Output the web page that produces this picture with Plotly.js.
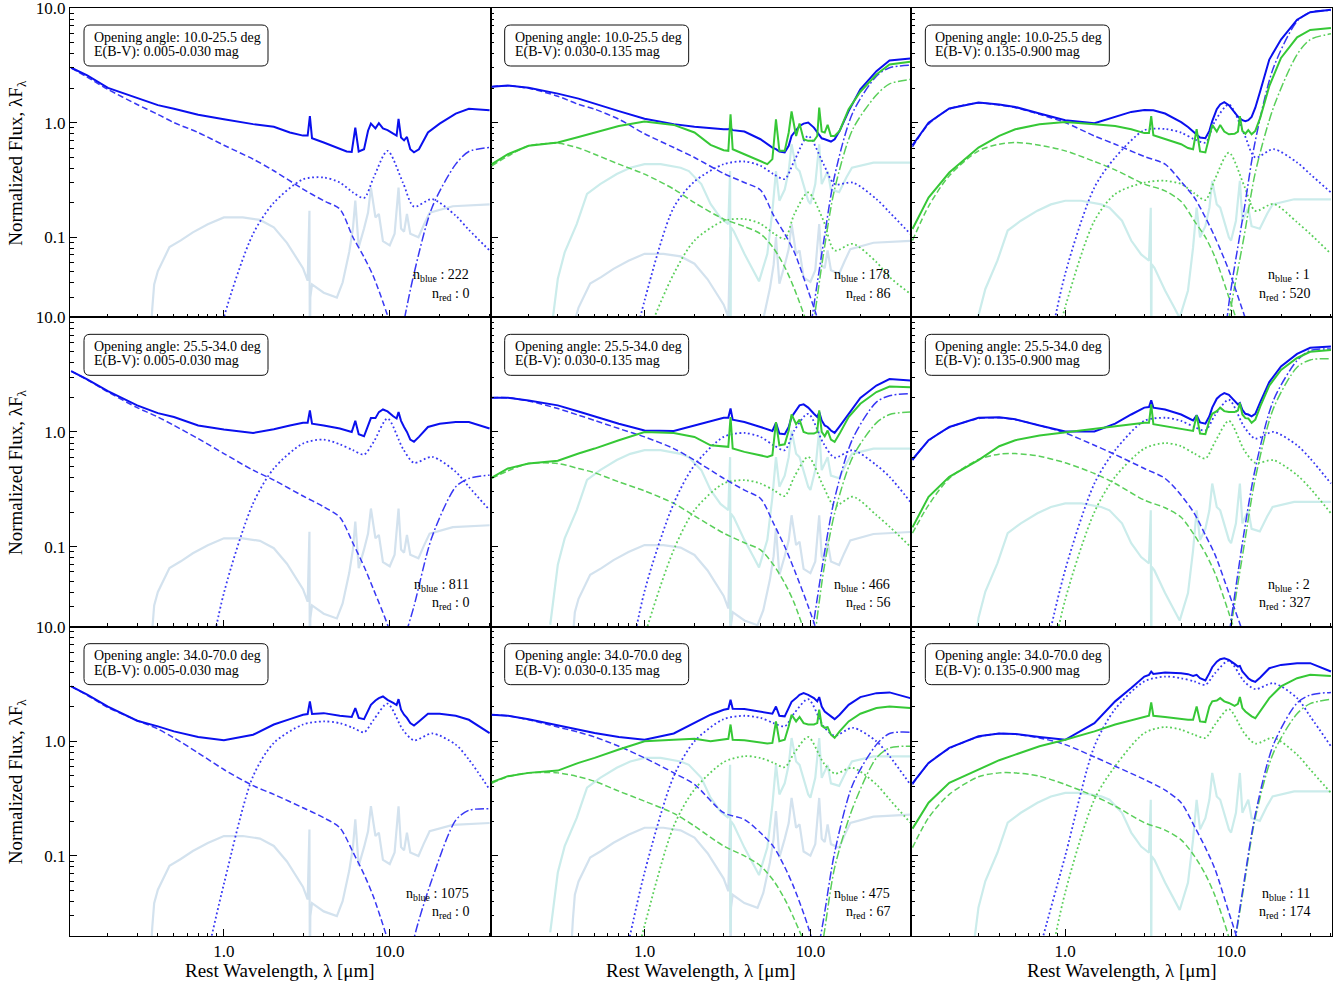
<!DOCTYPE html>
<html>
<head>
<meta charset="utf-8">
<script src="https://cdn.plot.ly/plotly-3.0.1.min.js"></script>
<style>html,body{margin:0;padding:0;background:#fff}</style>
</head>
<body>
<div id="chart" style="width:1342px;height:987px"></div>
<script>
// ---- wavelength grids (rest frame, micron) ----
const wlComp = [0.12,0.15,0.2,0.3,0.4,0.5,0.7,1,1.5,2,3,4,5,6,7,8,9.7,12,14,18,25,30,40];
const wlTot = [0.12,0.15,0.2,0.3,0.4,0.5,0.7,1.0,1.5,2.0,2.5,3.0,3.2,3.3,3.4,4.0,5.0,5.5,5.9,6.2,6.5,7.0,7.4,7.7,8.2,8.6,9.1,9.7,10.5,11.0,11.3,11.7,12.2,12.7,13.3,14.0,15.0,17.0,20.0,25.0,30.0,40.0];

// ---- host-galaxy templates (relative to 1 micron) ----
const hostA_wl = [0.30,0.36,0.37,0.38,0.40,0.43,0.47,0.55,0.65,0.8,1.0,1.3,1.65,2.0,2.4,3.0,3.2,3.28,3.3,3.32,3.4,4.0,4.8,5.2,5.7,6.0,6.2,6.5,7.0,7.4,7.7,8.2,8.6,9.1,10.0,10.7,11.3,11.7,12.2,12.7,13.3,14.9,16.0,17.4,24,40];
const hostA_rel = [0.02,0.08,0.16,0.26,0.34,0.42,0.55,0.63,0.74,0.87,1.0,1.0,0.95,0.82,0.6,0.36,0.28,1.14,0.05,0.2,0.26,0.22,0.2,0.27,0.5,0.8,1.4,0.55,0.8,1.1,1.82,1.0,1.07,0.62,0.57,0.72,1.82,0.8,0.75,1.07,0.72,0.67,0.85,1.1,1.25,1.3];
const hostB_wl = [0.27,0.29,0.30,0.33,0.36,0.39,0.45,0.54,0.68,0.82,1.0,1.25,1.65,1.85,2.2,2.5,2.87,3.2,3.28,3.3,3.32,3.45,4.0,4.5,4.9,5.5,5.9,6.2,6.5,7.0,7.4,7.7,8.2,8.6,9.7,10.0,10.7,11.3,11.7,12.7,13.3,14.9,16.5,17.8,24,40];
const hostB_rel = [0.03,0.07,0.10,0.17,0.23,0.30,0.55,0.67,0.82,0.93,1.0,1.0,0.93,0.87,0.67,0.45,0.34,0.30,0.87,0.03,0.28,0.26,0.165,0.12,0.095,0.165,0.39,0.87,0.48,0.6,0.87,1.49,0.93,0.87,0.48,0.45,0.67,1.49,0.67,0.87,0.6,0.57,0.77,0.93,1.03,1.03];
// host normalisation per panel (row-major), blue-sample and red-sample hosts
const hostAmpBlue = [0.149,0.0716,null,0.118,0.103,null,0.149,0.176,null];
const hostAmpRed  = [null,0.434,0.208,null,0.693,0.238,null,0.716,0.355];

// ---- bin labels and counts ----
const angleBins = ['10.0-25.5','25.5-34.0','34.0-70.0'];
const ebvBins = ['0.005-0.030','0.030-0.135','0.135-0.900'];
const nBlue = [222,178,1,811,466,2,1075,475,11];
const nRed  = [0,86,520,0,56,327,0,67,174];

// ---- row 1 ----
const blueTot11 = [3.01,2.58,2.01,1.63,1.42,1.32,1.17,1.07,0.97,0.92,0.82,0.77,0.77,1.14,0.73,0.67,0.59,0.56,0.555,0.905,0.56,0.585,0.85,0.98,0.89,0.99,0.89,0.86,0.80,0.77,1.08,0.74,0.70,0.75,0.585,0.55,0.585,0.82,0.98,1.2,1.32,1.28];
const blueDisk11 = [3.01,2.49,1.95,1.44,1.18,1.0,0.82,0.635,0.48,0.38,0.263,0.208,0.176,0.1,0.067,0.045,0.0208,0.008,0.004,0.0015,0.001,0.001,0.001];
const blueTorus11 = [null,null,null,null,null,null,0.002,0.02,0.107,0.2,0.32,0.332,0.30,0.246,0.22,0.332,0.567,0.30,0.185,0.215,0.154,0.116,0.0766];
const blueCold11 = [null,null,null,null,null,null,null,null,null,null,null,null,null,null,null,null,0.003,0.0165,0.048,0.182,0.434,0.56,0.606];

const blueTot12 = [2.06,2.11,2.01,1.79,1.62,1.46,1.26,1.08,0.97,0.92,0.89,0.875,0.875,0.89,0.86,0.835,0.716,0.648,0.606,0.586,0.56,0.55,0.627,0.765,0.85,0.935,0.98,1.0,0.905,0.82,0.79,0.73,0.716,0.705,0.684,0.716,0.847,1.26,1.95,2.81,3.48,3.62];
const greenTot12 = [0.434,0.53,0.627,0.67,0.75,0.82,0.935,1.02,0.955,0.82,0.64,0.575,0.567,1.18,0.586,0.53,0.464,0.434,0.48,1.07,0.567,0.567,0.82,1.25,0.765,0.98,0.716,0.693,0.693,0.765,1.35,0.835,0.82,0.955,0.765,0.765,0.847,1.31,1.86,2.63,3.21,3.39];
const blueDisk12 = [2.06,2.1,1.99,1.70,1.44,1.31,1.07,0.80,0.606,0.496,0.36,0.30,0.258,0.155,0.107,0.074,0.034,0.0135,0.006,0.002,0.001,0.001,0.001];
const blueTorus12 = [null,null,null,null,null,null,0.003,0.028,0.182,0.306,0.434,0.458,0.42,0.355,0.322,0.464,0.765,0.434,0.291,0.30,0.215,0.165,0.107];
const blueCold12 = [null,null,null,null,null,null,null,null,null,null,null,null,null,null,null,0.002,0.012,0.09,0.344,1.22,2.54,3.01,3.17];
const greenDisk12 = [0.42,0.51,0.627,0.66,0.6,0.53,0.434,0.355,0.263,0.20,0.144,0.124,0.107,0.08,0.055,0.0355,0.0165,0.006,0.002,0.001,0.001,0.001,0.001];
const greenTorus12 = [null,null,null,null,null,null,0.002,0.012,0.048,0.0936,0.139,0.144,0.131,0.108,0.097,0.159,0.246,0.139,0.0766,0.0875,0.0607,0.0449,0.0321];
const greenCold12 = [null,null,null,null,null,null,null,null,null,null,null,null,null,null,null,0.001,0.008,0.072,0.263,0.875,1.74,2.18,2.38];

const blueTot13 = [0.635,1.0,1.33,1.50,1.44,1.37,1.2,1.05,0.987,1.13,1.24,1.29,1.29,1.29,1.28,1.2,1.01,0.916,0.835,0.79,0.741,0.73,0.847,1.03,1.31,1.44,1.51,1.42,1.22,1.13,1.09,1.05,1.03,1.05,1.12,1.35,1.885,3.55,5.3,7.9,9.2,9.67];
const greenTot13 = [0.118,0.222,0.367,0.606,0.765,0.875,0.967,1.01,0.967,0.935,0.875,0.81,0.81,1.14,0.776,0.716,0.648,0.6,0.586,0.875,0.56,0.55,0.765,0.955,0.835,0.955,0.835,0.79,0.80,0.835,1.14,0.847,0.80,0.86,0.79,0.847,1.105,2.08,3.67,5.55,6.43,6.7];
const blueDisk13 = [0.615,0.967,1.31,1.48,1.42,1.35,1.18,1.0,0.765,0.648,0.506,0.434,0.306,0.222,0.149,0.1,0.0513,0.021,0.011,0.004,0.002,0.001,0.001];
const blueTorus13 = [null,null,null,null,null,null,0.004,0.048,0.272,0.496,0.858,0.88,0.818,0.716,0.67,1.03,1.44,0.792,0.496,0.586,0.449,0.355,0.246];
const blueCold13 = [null,null,null,null,null,null,null,null,null,null,null,null,null,null,null,0.002,0.0263,0.176,0.693,3.01,7.66,9.2,9.5];
const greenDisk13 = [0.0936,0.186,0.344,0.567,0.648,0.67,0.635,0.567,0.458,0.387,0.291,0.254,0.205,0.139,0.1,0.067,0.03,0.0118,0.005,0.002,0.001,0.001,0.001];
const greenTorus13 = [null,null,null,null,null,null,0.003,0.0246,0.139,0.238,0.30,0.311,0.291,0.242,0.211,0.322,0.548,0.281,0.17,0.195,0.135,0.107,0.0716];
const greenCold13 = [null,null,null,null,null,null,null,null,null,null,null,null,null,null,null,0.002,0.019,0.103,0.367,1.35,3.93,5.3,5.95];

// ---- row 2 ----
const blueTot21 = [3.39,2.87,2.27,1.705,1.46,1.35,1.14,1.05,0.98,1.055,1.14,1.2,1.2,1.54,1.18,1.14,1.07,1.03,1.0,1.25,0.955,0.917,1.14,1.32,1.32,1.49,1.57,1.51,1.37,1.31,1.49,1.25,1.105,1.0,0.858,0.82,0.905,1.105,1.18,1.22,1.22,1.07];
const blueDisk21 = [3.39,2.85,2.23,1.63,1.35,1.14,0.875,0.648,0.464,0.38,0.276,0.222,0.18,0.107,0.067,0.042,0.0208,0.008,0.004,0.0015,0.001,0.001,0.001];
const blueTorus21 = [null,null,null,null,null,null,0.003,0.0393,0.238,0.48,0.792,0.858,0.78,0.693,0.635,0.818,1.31,0.716,0.538,0.606,0.449,0.332,0.208];
const blueCold21 = [null,null,null,null,null,null,null,null,null,null,null,null,null,null,null,null,0.002,0.0136,0.0301,0.122,0.332,0.393,0.42];

const blueTot22 = [1.99,1.99,1.885,1.705,1.51,1.37,1.18,1.03,1.02,1.14,1.25,1.33,1.33,1.6,1.28,1.22,1.105,1.055,1.02,1.2,0.967,0.955,1.105,1.35,1.54,1.705,1.74,1.63,1.44,1.35,1.49,1.26,1.14,1.105,1.03,0.98,1.12,1.44,1.98,2.54,2.89,2.81];
const greenTot22 = [0.40,0.48,0.53,0.56,0.648,0.716,0.847,1.0,0.98,0.905,0.765,0.741,0.741,1.35,0.716,0.67,0.627,0.606,0.627,1.22,0.765,0.78,1.03,1.42,1.17,1.28,1.0,0.967,0.967,1.0,1.54,1.0,0.917,1.03,0.858,0.818,0.967,1.35,1.76,2.23,2.49,2.46];
const blueDisk22 = [1.99,1.99,1.86,1.6,1.4,1.26,1.07,0.905,0.716,0.567,0.394,0.311,0.263,0.159,0.1,0.0627,0.0301,0.012,0.005,0.002,0.001,0.001,0.001];
const blueTorus22 = [null,null,null,null,null,null,0.003,0.0407,0.238,0.513,0.905,0.98,0.905,0.765,0.693,1.03,1.44,0.792,0.598,0.693,0.513,0.406,0.246];
const blueCold22 = [null,null,null,null,null,null,null,null,null,null,null,null,null,null,null,0.001,0.01,0.079,0.263,0.875,1.82,2.07,2.16];
const greenDisk22 = [0.393,0.458,0.53,0.53,0.48,0.44,0.367,0.306,0.238,0.185,0.131,0.108,0.0936,0.069,0.048,0.032,0.0143,0.005,0.002,0.001,0.001,0.001,0.001];
const greenTorus22 = [null,null,null,null,null,null,0.002,0.0165,0.0936,0.208,0.355,0.38,0.355,0.311,0.276,0.406,0.606,0.332,0.226,0.272,0.188,0.149,0.1];
const greenCold22 = [null,null,null,null,null,null,null,null,null,null,null,null,null,null,null,0.001,0.006,0.0607,0.195,0.606,1.2,1.42,1.49];

const blueTot23 = [0.575,0.847,1.105,1.33,1.34,1.29,1.14,1.01,1.01,1.18,1.42,1.63,1.65,1.885,1.63,1.57,1.42,1.33,1.26,1.40,1.21,1.18,1.37,1.63,1.95,2.08,2.18,2.11,1.885,1.74,1.79,1.56,1.44,1.42,1.37,1.44,1.82,2.72,3.73,4.8,5.43,5.56];
const greenTot23 = [0.147,0.272,0.406,0.567,0.75,0.847,0.93,0.99,1.06,1.13,1.17,1.2,1.2,1.74,1.17,1.12,1.07,1.03,1.02,1.40,0.967,0.955,1.26,1.44,1.52,1.63,1.52,1.49,1.49,1.54,1.79,1.42,1.32,1.31,1.2,1.28,1.67,2.54,3.48,4.42,5.0,5.2];
const blueDisk23 = [0.567,0.835,1.09,1.31,1.33,1.28,1.14,0.98,0.765,0.635,0.48,0.393,0.28,0.195,0.126,0.085,0.0393,0.0165,0.008,0.003,0.001,0.001,0.001];
const blueTorus23 = [null,null,null,null,null,null,0.007,0.0627,0.355,0.693,1.25,1.33,1.25,1.105,1.03,1.40,1.91,1.105,0.875,1.0,0.765,0.586,0.355];
const blueCold23 = [null,null,null,null,null,null,null,null,null,null,null,null,null,null,null,0.002,0.0165,0.135,0.48,1.885,4.2,5.13,5.3];
const greenDisk23 = [0.131,0.23,0.393,0.575,0.64,0.648,0.614,0.538,0.434,0.355,0.254,0.218,0.18,0.126,0.0875,0.0586,0.0263,0.01,0.005,0.002,0.001,0.001,0.001];
const greenTorus23 = [null,null,null,null,null,null,0.003,0.0344,0.2,0.406,0.716,0.80,0.75,0.648,0.586,0.818,1.25,0.693,0.538,0.567,0.42,0.322,0.195];
const greenCold23 = [null,null,null,null,null,null,null,null,null,null,null,null,null,null,null,0.002,0.015,0.103,0.393,1.6,3.67,4.25,4.35];

// ---- row 3 ----
const blueTot31 = [3.01,2.55,2.01,1.51,1.35,1.22,1.09,1.02,1.14,1.40,1.56,1.705,1.73,2.23,1.73,1.76,1.67,1.65,1.63,1.95,1.6,1.56,1.885,2.08,2.27,2.38,2.46,2.30,2.16,2.07,2.33,1.885,1.705,1.6,1.44,1.37,1.49,1.74,1.74,1.67,1.54,1.18];
const blueDisk31 = [3.01,2.52,1.97,1.52,1.28,1.07,0.792,0.567,0.41,0.344,0.263,0.215,0.176,0.108,0.069,0.0435,0.0188,0.007,0.003,0.001,0.001,0.001,0.001];
const blueTorus31 = [null,null,null,null,null,null,0.006,0.0568,0.496,0.967,1.40,1.49,1.44,1.31,1.2,1.54,2.13,1.26,1.02,1.17,0.935,0.693,0.38];
const blueCold31 = [null,null,null,null,null,null,null,null,null,null,null,null,null,null,null,null,0.0005,0.005,0.019,0.0627,0.205,0.25,0.258];

const blueTot32 = [1.705,1.67,1.56,1.37,1.25,1.18,1.09,1.03,1.17,1.44,1.705,1.885,1.92,2.30,1.92,1.91,1.82,1.76,1.74,2.01,1.67,1.65,1.99,2.21,2.38,2.54,2.63,2.54,2.38,2.23,2.43,2.01,1.82,1.74,1.63,1.56,1.705,2.08,2.43,2.63,2.67,2.38];
const greenTot32 = [0.44,0.496,0.53,0.555,0.648,0.716,0.847,1.0,1.03,1.05,1.0,1.03,1.05,1.40,1.03,1.02,0.967,0.955,0.967,1.49,1.0,1.03,1.35,1.705,1.49,1.63,1.44,1.40,1.40,1.44,1.885,1.37,1.31,1.33,1.14,1.07,1.22,1.49,1.74,1.95,2.01,1.95];
const blueDisk32 = [1.705,1.67,1.54,1.33,1.2,1.09,0.905,0.716,0.53,0.42,0.238,0.208,0.159,0.12,0.08,0.052,0.024,0.008,0.003,0.001,0.001,0.001,0.001];
const blueTorus32 = [null,null,null,null,null,null,0.007,0.0716,0.496,1.0,1.56,1.67,1.60,1.44,1.35,1.76,2.33,1.35,1.12,1.31,1.0,0.741,0.42];
const blueCold32 = [null,null,null,null,null,null,null,null,null,null,null,null,null,null,null,null,0.005,0.028,0.107,0.42,0.935,1.17,1.2];
const greenDisk32 = [0.43,0.49,0.53,0.53,0.49,0.448,0.367,0.30,0.235,0.182,0.122,0.10,0.0819,0.0607,0.042,0.028,0.0143,0.005,0.002,0.001,0.001,0.001,0.001];
const greenTorus32 = [null,null,null,null,null,null,0.003,0.0246,0.182,0.38,0.657,0.741,0.716,0.648,0.594,0.792,1.09,0.648,0.524,0.586,0.42,0.311,0.195];
const greenCold32 = [null,null,null,null,null,null,null,null,null,null,null,null,null,null,null,null,0.003,0.0195,0.079,0.263,0.716,0.875,0.905];

const blueTot33 = [0.43,0.648,0.875,1.105,1.17,1.16,1.09,1.03,1.44,2.23,2.91,3.67,3.8,4.06,3.87,3.98,3.93,3.85,3.72,3.8,3.55,3.39,3.93,4.43,4.95,5.2,5.3,5.13,4.73,4.49,4.55,4.06,3.8,3.55,3.39,3.3,3.6,4.34,4.64,4.8,4.8,4.06];
const greenTot33 = [0.173,0.291,0.434,0.567,0.684,0.765,0.905,1.03,1.22,1.40,1.52,1.63,1.67,2.18,1.67,1.63,1.56,1.54,1.54,2.01,1.49,1.47,2.01,2.23,2.27,2.38,2.23,2.16,2.04,2.12,2.43,1.95,1.82,1.74,1.65,1.59,1.82,2.38,3.01,3.55,3.8,3.72];
const blueDisk33 = [0.42,0.64,0.863,1.09,1.17,1.15,1.07,0.935,0.73,0.606,0.464,0.375,0.291,0.182,0.118,0.0766,0.0321,0.012,0.005,0.002,0.001,0.001,0.001];
const blueTorus33 = [null,null,null,null,null,0.002,0.015,0.1,0.905,1.91,3.33,3.67,3.55,3.33,3.11,3.93,5.03,3.33,2.85,3.21,2.38,1.65,0.905];
const blueCold33 = [null,null,null,null,null,null,null,null,null,null,null,null,null,null,null,0.001,0.008,0.0607,0.23,0.935,2.16,2.53,2.67];
const greenDisk33 = [0.118,0.215,0.344,0.49,0.53,0.53,0.496,0.42,0.332,0.272,0.195,0.168,0.138,0.1,0.069,0.0449,0.0195,0.006,0.002,0.001,0.001,0.001,0.001];
const greenTorus33 = [null,null,null,null,null,null,0.004,0.048,0.311,0.606,1.18,1.33,1.26,1.14,1.07,1.40,1.91,1.18,0.955,1.07,0.765,0.567,0.355];
const greenCold33 = [null,null,null,null,null,null,null,null,null,null,null,null,null,null,null,0.001,0.008,0.0567,0.215,0.792,1.74,2.13,2.33];

// ---- per-panel lookup (row-major) ----
const blueSeries = [
  [blueTot11, blueDisk11, blueTorus11, blueCold11],
  [blueTot12, blueDisk12, blueTorus12, blueCold12],
  [blueTot13, blueDisk13, blueTorus13, blueCold13],
  [blueTot21, blueDisk21, blueTorus21, blueCold21],
  [blueTot22, blueDisk22, blueTorus22, blueCold22],
  [blueTot23, blueDisk23, blueTorus23, blueCold23],
  [blueTot31, blueDisk31, blueTorus31, blueCold31],
  [blueTot32, blueDisk32, blueTorus32, blueCold32],
  [blueTot33, blueDisk33, blueTorus33, blueCold33]
];
const greenSeries = [
  null,
  [greenTot12, greenDisk12, greenTorus12, greenCold12],
  [greenTot13, greenDisk13, greenTorus13, greenCold13],
  null,
  [greenTot22, greenDisk22, greenTorus22, greenCold22],
  [greenTot23, greenDisk23, greenTorus23, greenCold23],
  null,
  [greenTot32, greenDisk32, greenTorus32, greenCold32],
  [greenTot33, greenDisk33, greenTorus33, greenCold33]
];

// ---- drawing ----
const FONT = 'Liberation Serif, Times New Roman, serif';
const L = 70, R = 1332, T = 8, B = 936;
const colW = (R - L) / 3, rowH = (B - T) / 3;
const px = x => x / (R - L);
const py = y => 1 - y / (B - T);

const DASH = '6px,3px', DOT = '1.8px,2.6px', DASHDOT = '9px,2.5px,1.8px,2.5px';
const C_BLUE = '#0a10ee', C_BLUE_C = '#3838f4';
const C_GREEN = '#36c836', C_GREEN_C = '#5acf5a';
const C_HOST_BLUE = '#d3e2ee', C_HOST_RED = '#cbeceb';

const traces = [];
function addLine(x, y, k, color, width, dash, smooth) {
  const s = k === 1 ? '' : String(k);
  traces.push({
    type: 'scatter', mode: 'lines', x: x, y: y,
    xaxis: 'x' + s, yaxis: 'y' + s,
    line: smooth ? {color: color, width: width, dash: dash || 'solid', shape: 'spline', smoothing: 0.8}
                 : {color: color, width: width, dash: dash || 'solid'},
    hoverinfo: 'skip', showlegend: false, connectgaps: false
  });
}

const layout = {
  width: 1342, height: 987,
  margin: {l: L, r: 1342 - R, t: T, b: 987 - B},
  paper_bgcolor: '#fff', plot_bgcolor: '#fff',
  showlegend: false,
  annotations: [], shapes: []
};

const minorX = [0.2,0.3,0.4,0.5,0.6,0.7,0.8,0.9,2,3,4,5,6,7,8,9,20,30,40];
const minorY = [0.02,0.03,0.04,0.05,0.06,0.07,0.08,0.09,0.2,0.3,0.4,0.5,0.6,0.7,0.8,0.9,2,3,4,5,6,7,8,9];

for (let k = 1; k <= 9; k++) {
  const r = Math.floor((k - 1) / 3), c = (k - 1) % 3;
  const s = k === 1 ? '' : String(k);
  const i = k - 1;

  // host galaxies underneath
  if (hostAmpBlue[i] !== null) addLine(hostA_wl, hostA_rel.map(v => v * hostAmpBlue[i]), k, C_HOST_BLUE, 2.2);
  if (hostAmpRed[i] !== null) addLine(hostB_wl, hostB_rel.map(v => v * hostAmpRed[i]), k, C_HOST_RED, 2.2);

  const g = greenSeries[i], b = blueSeries[i];
  if (g) {
    addLine(wlComp, g[1], k, C_GREEN_C, 1.5, DASH, true);
    addLine(wlComp, g[2], k, C_GREEN_C, 1.8, DOT, true);
    addLine(wlComp, g[3], k, C_GREEN_C, 1.5, DASHDOT, true);
  }
  addLine(wlComp, b[1], k, C_BLUE_C, 1.5, DASH, true);
  addLine(wlComp, b[2], k, C_BLUE_C, 1.8, DOT, true);
  addLine(wlComp, b[3], k, C_BLUE_C, 1.5, DASHDOT, true);
  addLine(wlTot, b[0], k, C_BLUE, 2);
  if (g) addLine(wlTot, g[0], k, C_GREEN, 2);

  const common = {
    type: 'log', showgrid: false, zeroline: false,
    showline: true, mirror: true, linecolor: '#000', linewidth: 1,
    ticks: 'inside', ticklen: 7, tickwidth: 1, tickcolor: '#000',
    ticklabeloverflow: 'allow',
    tickfont: {family: FONT, size: 17, color: '#000'},
    minor: {ticks: 'inside', ticklen: 3.5, tickwidth: 1, tickcolor: '#000', tickmode: 'array'}
  };
  layout['xaxis' + s] = Object.assign({}, common, {
    domain: [c / 3, (c + 1) / 3], anchor: 'y' + s,
    range: [Math.log10(0.1181), Math.log10(40.6)],
    tickmode: 'array', tickvals: [1, 10], ticktext: ['1.0', '10.0'],
    showticklabels: r === 2,
    minor: Object.assign({}, common.minor, {tickvals: minorX})
  });
  layout['yaxis' + s] = Object.assign({}, common, {
    domain: [1 - (r + 1) / 3, 1 - r / 3], anchor: 'x' + s,
    range: [Math.log10(0.02), 1],
    tickmode: 'array', tickvals: [0.1, 1, 10], ticktext: ['0.1', '1.0', '10.0'],
    showticklabels: c === 0,
    minor: Object.assign({}, common.minor, {tickvals: minorY})
  });

  // bin label box
  const x0 = c * colW, y0 = r * rowH;
  const bx0 = x0 + 14, bx1 = x0 + 198, by0 = y0 + 17, by1 = y0 + 58, rad = 6;
  const P = (x, y) => px(x) + ',' + py(y);
  const path = 'M' + P(bx0 + rad, by0) + ' L' + P(bx1 - rad, by0) +
    ' Q' + P(bx1, by0) + ' ' + P(bx1, by0 + rad) +
    ' L' + P(bx1, by1 - rad) + ' Q' + P(bx1, by1) + ' ' + P(bx1 - rad, by1) +
    ' L' + P(bx0 + rad, by1) + ' Q' + P(bx0, by1) + ' ' + P(bx0, by1 - rad) +
    ' L' + P(bx0, by0 + rad) + ' Q' + P(bx0, by0) + ' ' + P(bx0 + rad, by0) + ' Z';
  layout.shapes.push({type: 'path', xref: 'paper', yref: 'paper', path: path,
    line: {color: '#111', width: 1}, fillcolor: 'rgba(255,255,255,0.85)', layer: 'above'});

  const txt = (x, y, text, anchor) => layout.annotations.push({
    xref: 'paper', yref: 'paper', x: px(x), y: py(y), text: text,
    xanchor: anchor, yanchor: 'middle', showarrow: false,
    font: {family: FONT, size: 14, color: '#000'}
  });
  txt(x0 + 22, y0 + 29, 'Opening angle: ' + angleBins[r] + ' deg', 'left');
  txt(x0 + 22, y0 + 44, 'E(B-V): ' + ebvBins[c] + ' mag', 'left');
  txt(x0 + 401, y0 + 268, 'n<sub>blue</sub> : ' + nBlue[i], 'right');
  txt(x0 + 401, y0 + 286, 'n<sub>red</sub> : ' + nRed[i], 'right');
}

// axis titles
for (let r = 0; r < 3; r++) {
  layout.annotations.push({xref: 'paper', yref: 'paper', x: px(17 - L), y: py(r * rowH + rowH / 2),
    text: 'Normalized Flux, λF<sub>λ</sub>', textangle: -90, showarrow: false,
    xanchor: 'center', yanchor: 'middle', font: {family: FONT, size: 19, color: '#000'}});
}
for (let c = 0; c < 3; c++) {
  layout.annotations.push({xref: 'paper', yref: 'paper', x: px(c * colW + colW / 2), y: py(971 - T),
    text: 'Rest Wavelength, λ [μm]', showarrow: false,
    xanchor: 'center', yanchor: 'middle', font: {family: FONT, size: 19, color: '#000'}});
}

Plotly.newPlot('chart', traces, layout, {displayModeBar: false, staticPlot: true});
</script>
</body>
</html>
